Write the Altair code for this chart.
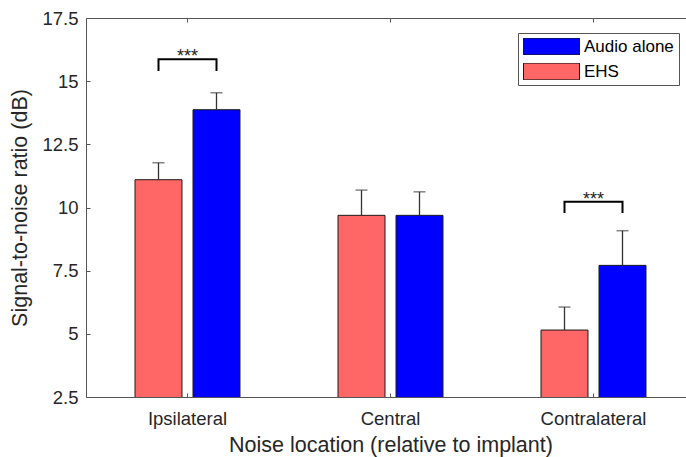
import altair as alt
import pandas as pd

# ---- data ----
locations = ["Ipsilateral", "Central", "Contralateral"]
conditions = ["EHS", "Audio alone"]          # order within each group (left -> right)
legend_order = ["Audio alone", "EHS"]
legend_colors = ["#0000FF", "#FF6666"]

ehs_mean = [11.10, 9.69, 5.15]
ehs_err = [0.67, 1.00, 0.91]
audio_mean = [13.87, 9.69, 7.71]
audio_err = [0.67, 0.93, 1.37]

y_ticks = [2.5, 5, 7.5, 10, 12.5, 15, 17.5]

sig_locations = ["Ipsilateral", "Contralateral"]
sig_labels = ["***", "***"]
sig_top = [15.87, 10.23]
sig_bottom = [15.40, 9.78]

FONT = "Liberation Sans"
AXIS_COLOR = "#555555"
TEXT_COLOR = "#262626"

# ---- tables ----
rows = []
for i, loc in enumerate(locations):
    rows.append({"loc": loc, "cond": "EHS", "mean": ehs_mean[i], "upper": ehs_mean[i] + ehs_err[i]})
    rows.append({"loc": loc, "cond": "Audio alone", "mean": audio_mean[i], "upper": audio_mean[i] + audio_err[i]})
bars_df = pd.DataFrame(rows)

br = []
for loc, top, bot in zip(sig_locations, sig_top, sig_bottom):
    br += [
        {"loc": loc, "cond": "EHS", "y": bot, "step": 0},
        {"loc": loc, "cond": "EHS", "y": top, "step": 1},
        {"loc": loc, "cond": "Audio alone", "y": top, "step": 2},
        {"loc": loc, "cond": "Audio alone", "y": bot, "step": 3},
    ]
brackets_df = pd.DataFrame(br)
stars_df = pd.DataFrame({"loc": sig_locations, "label": sig_labels, "y": sig_top})

# ---- scales ----
x_scale = alt.Scale(domain=locations, range=[0, 609], paddingInner=0, paddingOuter=0)
xo_scale = alt.Scale(domain=conditions, paddingInner=0.19, paddingOuter=0.845)
y_scale = alt.Scale(domain=[2.5, 17.5], zero=False, nice=False)


def X(axis):
    return alt.X("loc:N", sort=locations, scale=x_scale, axis=axis)


XO = alt.XOffset("cond:N", sort=conditions, scale=xo_scale)

x_main_axis = alt.Axis(
    orient="bottom", title="Noise location (relative to implant)", labelAngle=0,
    ticks=False, tickSize=0, domain=True, domainColor=AXIS_COLOR, domainWidth=1,
    labelFont=FONT, labelFontSize=18.5, labelColor=TEXT_COLOR, labelPadding=12,
    titleFont=FONT, titleFontSize=21.5, titleFontWeight="normal", titleColor=TEXT_COLOR,
    titlePadding=7,
)
y_main_axis = alt.Axis(
    orient="left", title="Signal-to-noise ratio (dB)", values=y_ticks,
    labelExpr="format(datum.value, '~g')",
    ticks=False, tickSize=0, domain=True, domainColor=AXIS_COLOR, domainWidth=1,
    grid=False, labelFont=FONT, labelFontSize=18.5, labelColor=TEXT_COLOR, labelPadding=8,
    titleFont=FONT, titleFontSize=21.5, titleFontWeight="normal", titleColor=TEXT_COLOR,
    titlePadding=10,
)
x_top_axis = alt.Axis(orient="top", title=None, labels=False, ticks=False, domain=True,
                      domainColor=AXIS_COLOR, domainWidth=1)
y_tick_axis = alt.Axis(orient="left", title=None, values=y_ticks, labels=False, domain=False,
                       ticks=True, tickSize=4, tickColor=AXIS_COLOR, offset=-4, grid=False)
x_bottom_ticks = alt.Axis(orient="bottom", title=None, labels=False, domain=False, ticks=True,
                          tickSize=4, tickColor=AXIS_COLOR, offset=-4)
x_top_ticks = alt.Axis(orient="top", title=None, labels=False, domain=False, ticks=True,
                       tickSize=4, tickColor=AXIS_COLOR, offset=-4)

legend = alt.Legend(
    title=None, orient="none", legendX=432, legendY=15, direction="vertical",
    padding=5, rowPadding=7, strokeColor="#555555", fillColor="white",
    symbolType="M-1,-0.3H1V0.3H-1Z", symbolSize=3136, clipHeight=17,
    symbolStrokeColor="#1a1a1a", symbolStrokeWidth=1, symbolOpacity=1,
    labelFont=FONT, labelFontSize=17, labelColor="black", labelOffset=4, labelLimit=300,
)

bars = alt.Chart(bars_df).mark_bar(stroke="#1a1a1a", strokeWidth=1, clip=True).encode(
    x=X(x_main_axis),
    xOffset=XO,
    y=alt.Y("mean:Q", scale=y_scale, axis=y_main_axis),
    color=alt.Color("cond:N", scale=alt.Scale(domain=legend_order, range=legend_colors), legend=legend),
)

err = alt.Chart(bars_df).mark_rule(color="#333333", strokeWidth=1.3).encode(
    x=X(x_top_axis),
    xOffset=XO,
    y=alt.Y("mean:Q", scale=y_scale, axis=y_tick_axis),
    y2="upper:Q",
)

caps = alt.Chart(bars_df).mark_tick(color="#333333", thickness=1.3, size=12).encode(
    x=X(x_bottom_ticks),
    xOffset=XO,
    y=alt.Y("upper:Q", scale=y_scale, axis=None),
)

brackets = alt.Chart(brackets_df).mark_line(color="black", strokeWidth=2).encode(
    x=X(x_top_ticks),
    xOffset=XO,
    y=alt.Y("y:Q", scale=y_scale, axis=None),
    detail="loc:N",
    order="step:O",
)

stars = alt.Chart(stars_df).mark_text(font=FONT, fontSize=18, baseline="alphabetic", dy=3,
                                       color="#222222").encode(
    x=alt.X("loc:N", sort=locations, scale=x_scale, axis=None),
    y=alt.Y("y:Q", scale=y_scale, axis=None),
    text="label:N",
)

chart = (
    alt.layer(bars, err, caps, brackets, stars)
    .resolve_axis(x="independent", y="independent")
    .properties(
        width=600, height=379,
        padding={"left": 86, "top": 18, "right": 0, "bottom": 60},
        autosize=alt.AutoSizeParams(type="none"),
        background="white",
    )
    .configure_view(stroke=None)
)

chart.save("out.html", embed_options={"renderer": "svg", "actions": False})
